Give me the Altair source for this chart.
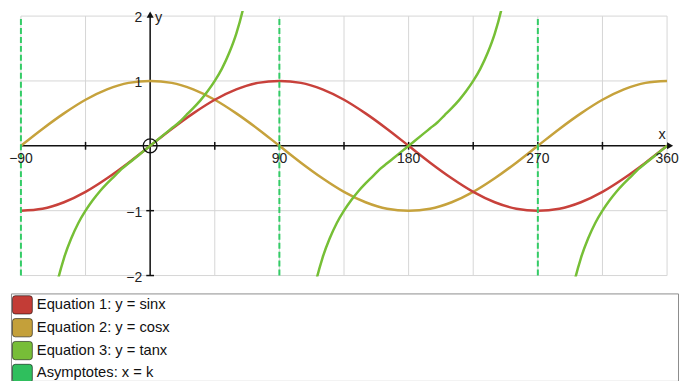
import altair as alt
import pandas as pd

FONT = "Liberation Sans"

# ---- data ----
X15 = [-90, -75, -60, -45, -30, -15, 0, 15, 30, 45, 60, 75, 90, 105, 120, 135,
       150, 165, 180, 195, 210, 225, 240, 255, 270, 285, 300, 315, 330, 345, 360]
SIN = [-1.00, -0.97, -0.87, -0.71, -0.50, -0.26, 0.00, 0.26, 0.50, 0.71, 0.87,
       0.97, 1.00, 0.97, 0.87, 0.71, 0.50, 0.26, 0.00, -0.26, -0.50, -0.71,
       -0.87, -0.97, -1.00, -0.97, -0.87, -0.71, -0.50, -0.26, 0.00]
COS = [0.00, 0.26, 0.50, 0.71, 0.87, 0.97, 1.00, 0.97, 0.87, 0.71, 0.50, 0.26,
       0.00, -0.26, -0.50, -0.71, -0.87, -0.97, -1.00, -0.97, -0.87, -0.71,
       -0.50, -0.26, 0.00, 0.26, 0.50, 0.71, 0.87, 0.97, 1.00]

TAN1_X = [-70, -65, -60, -55, -50, -45, -40, -35, -30, -25, -20, -15, -10, -5, 0,
          5, 10, 15, 20, 25, 30, 35, 40, 45, 50, 55, 60, 65, 70]
TAN1_Y = [-2.75, -2.14, -1.73, -1.43, -1.19, -1.00, -0.84, -0.70, -0.58, -0.47,
          -0.36, -0.27, -0.18, -0.09, 0.00, 0.09, 0.18, 0.27, 0.36, 0.47, 0.58,
          0.70, 0.84, 1.00, 1.19, 1.43, 1.73, 2.14, 2.75]
TAN2_X = [110, 115, 120, 125, 130, 135, 140, 145, 150, 155, 160, 165, 170, 175, 180,
          185, 190, 195, 200, 205, 210, 215, 220, 225, 230, 235, 240, 245, 250]
TAN2_Y = [-2.75, -2.14, -1.73, -1.43, -1.19, -1.00, -0.84, -0.70, -0.58, -0.47,
          -0.36, -0.27, -0.18, -0.09, 0.00, 0.09, 0.18, 0.27, 0.36, 0.47, 0.58,
          0.70, 0.84, 1.00, 1.19, 1.43, 1.73, 2.14, 2.75]
TAN3_X = [290, 295, 300, 305, 310, 315, 320, 325, 330, 335, 340, 345, 350, 355, 360]
TAN3_Y = [-2.75, -2.14, -1.73, -1.43, -1.19, -1.00, -0.84, -0.70, -0.58, -0.47,
          -0.36, -0.27, -0.18, -0.09, 0.00]

X_DOMAIN = [-90, 360]
Y_DOMAIN = [-2, 2]
ASYMPTOTES = [-90, 90, 270]
GRID_X = [-90, -45, 0, 45, 90, 135, 180, 225, 270, 315, 360]
GRID_Y = [-2, -1, 1, 2]
TICK_X = [-45, 45, 90, 135, 180, 225, 270, 315]
TICK_Y = [-2, -1, 1]
XLAB_V = [-90, 90, 180, 270, 360]
XLAB_T = ["\u221290", "90", "180", "270", "360"]
YLAB_V = [2, 1, -1, -2]
YLAB_T = ["2", "1", "\u22121", "\u22122"]

LEGEND_LABELS = ["Equation 1: y = sinx", "Equation 2: y = cosx",
                 "Equation 3: y = tanx", "Asymptotes: x = k"]
LEGEND_COLORS = ["#c33c36", "#c4a03a", "#77bd38", "#2fbf5d"]

C_SIN, C_COS, C_TAN, C_ASY = "#c8413b", "#c6a23c", "#76bf36", "#33cc66"

# ---- tables ----
df_curves = pd.DataFrame({"x": X15, "sin": SIN, "cos": COS})
df_tan = pd.concat([
    pd.DataFrame({"x": TAN1_X, "y": TAN1_Y, "seg": "a"}),
    pd.DataFrame({"x": TAN2_X, "y": TAN2_Y, "seg": "b"}),
    pd.DataFrame({"x": TAN3_X, "y": TAN3_Y, "seg": "c"}),
], ignore_index=True)
lo_y, hi_y = Y_DOMAIN
lo_x, hi_x = X_DOMAIN
df_asy = pd.DataFrame({"x": ASYMPTOTES, "y1": lo_y, "y2": hi_y})
df_gx = pd.DataFrame({"x": GRID_X, "y1": lo_y, "y2": hi_y})
df_gy = pd.DataFrame({"y": GRID_Y, "x1": lo_x, "x2": hi_x})
df_xaxis = pd.DataFrame({"x1": [lo_x], "x2": [hi_x], "y": [0]})
df_yaxis = pd.DataFrame({"x": [0], "y1": [lo_y], "y2": [hi_y]})
df_tx = pd.DataFrame({"x": TICK_X, "y1": -0.06, "y2": 0.06})
df_ty = pd.DataFrame({"y": TICK_Y, "x1": -2.7, "x2": 2.7})
df_xl = pd.DataFrame({"x": XLAB_V, "y": 0, "t": XLAB_T})
df_yl = pd.DataFrame({"y": YLAB_V, "x": 0, "t": YLAB_T})
df_origin = pd.DataFrame({"x": [0], "y": [0]})
df_arrows = pd.DataFrame({"x": [362.1, 0], "y": [0, 2.023],
                          "shape": ["triangle-right", "triangle-up"]})
df_xname = pd.DataFrame({"x": [360], "y": [0], "t": ["x"]})
df_yname = pd.DataFrame({"x": [0], "y": [2], "t": ["y"]})

xs = alt.Scale(domain=X_DOMAIN, range=[10, 660], nice=False, zero=False)
ys = alt.Scale(domain=Y_DOMAIN, range=[266, 5], nice=False, zero=False)


def X(f):
    return alt.X(f, type="quantitative", scale=xs, axis=None)


def Y(f):
    return alt.Y(f, type="quantitative", scale=ys, axis=None)


grid_v = alt.Chart(df_gx).mark_rule(color="#d6d6d6", strokeWidth=1).encode(
    x=X("x"), y=Y("y1"), y2="y2:Q")
grid_h = alt.Chart(df_gy).mark_rule(color="#d6d6d6", strokeWidth=1).encode(
    y=Y("y"), x=X("x1"), x2="x2:Q")

x_axis = alt.Chart(df_xaxis).mark_rule(color="#111", strokeWidth=1.5).encode(
    x=X("x1"), x2="x2:Q", y=Y("y"))
y_axis = alt.Chart(df_yaxis).mark_rule(color="#111", strokeWidth=1.5).encode(
    x=X("x"), y=Y("y1"), y2="y2:Q")

ticks_x = alt.Chart(df_tx).mark_rule(strokeWidth=1.5, color="#111").encode(
    x=X("x"), y=Y("y1"), y2="y2:Q")
ticks_y = alt.Chart(df_ty).mark_rule(strokeWidth=1.5, color="#111").encode(
    y=Y("y"), x=X("x1"), x2="x2:Q")

cos_line = alt.Chart(df_curves).mark_line(
    color=C_COS, strokeWidth=2.5, interpolate="monotone", clip=True).encode(
    x=X("x"), y=Y("cos"))
sin_line = alt.Chart(df_curves).mark_line(
    color=C_SIN, strokeWidth=2.5, interpolate="monotone", clip=True).encode(
    x=X("x"), y=Y("sin"))
tan_line = alt.Chart(df_tan).mark_line(
    color=C_TAN, strokeWidth=2.5, interpolate="monotone", clip=True).encode(
    x=X("x"), y=Y("y"), detail="seg:N")

asym = alt.Chart(df_asy).mark_rule(color=C_ASY, strokeWidth=2,
                                   strokeDash=[6, 3]).encode(
    x=X("x"), y=Y("y1"), y2="y2:Q")

origin = alt.Chart(df_origin).mark_point(shape="circle", size=196, filled=False,
                                         color="#111", strokeWidth=1.3,
                                         opacity=1).encode(x=X("x"), y=Y("y"))

arrows = alt.Chart(df_arrows).mark_point(filled=True, size=50, color="#111",
                                         opacity=1).encode(
    x=X("x"), y=Y("y"), shape=alt.Shape("shape:N", scale=None))

xlabels = alt.Chart(df_xl).mark_text(font=FONT, fontSize=14, color="#222",
                                     align="center", baseline="middle",
                                     dy=13).encode(
    x=X("x"), y=Y("y"), text="t:N")
ylabels = alt.Chart(df_yl).mark_text(font=FONT, fontSize=14, color="#222",
                                     align="right", baseline="middle",
                                     dx=-8, dy=2).encode(
    y=Y("y"), x=X("x"), text="t:N")
xname = alt.Chart(df_xname).mark_text(
    font=FONT, fontSize=14.5, color="#222", align="center", baseline="middle",
    dx=-5, dy=-11).encode(x=X("x"), y=Y("y"), text="t:N")
yname = alt.Chart(df_yname).mark_text(
    font=FONT, fontSize=14.5, color="#222", align="left", baseline="middle",
    dx=5, dy=2).encode(x=X("x"), y=Y("y"), text="t:N")

main = alt.layer(
    grid_v, grid_h, x_axis, y_axis, ticks_x, ticks_y,
    cos_line, sin_line, tan_line, asym, origin, arrows,
    xlabels, ylabels, xname, yname,
).properties(width=660, height=267)

ROUNDED = ("M -0.72 -0.92 L 0.72 -0.92 Q 1 -0.92 1 -0.64 L 1 0.64 Q 1 0.92 0.72 0.92 "
           "L -0.72 0.92 Q -1 0.92 -1 0.64 L -1 -0.64 Q -1 -0.92 -0.72 -0.92 Z")

df_leg = pd.DataFrame({"label": LEGEND_LABELS})
legend_panel = alt.Chart(df_leg).mark_square(opacity=0, size=1).encode(
    color=alt.Color(
        "label:N",
        scale=alt.Scale(domain=LEGEND_LABELS, range=LEGEND_COLORS),
        legend=alt.Legend(
            title=None, orient="top-left", offset=1, padding=0,
            symbolType=ROUNDED, symbolSize=400, symbolOpacity=1,
            symbolStrokeColor="rgba(0,0,0,0.55)", symbolStrokeWidth=1,
            labelFont=FONT, labelFontSize=14.8, labelColor="#111",
            labelOffset=4, rowPadding=0, labelLimit=400,
        ),
    )
).properties(width=671, height=88,
             view=alt.ViewBackground(stroke="#8c8c8c", strokeWidth=1))

chart = alt.vconcat(main, legend_panel, spacing=7).resolve_scale(
    color="independent"
).properties(
    padding=0, background="white"
).configure_view(stroke="transparent")

chart.save("out.html", embed_options={"renderer": "svg", "actions": False})
